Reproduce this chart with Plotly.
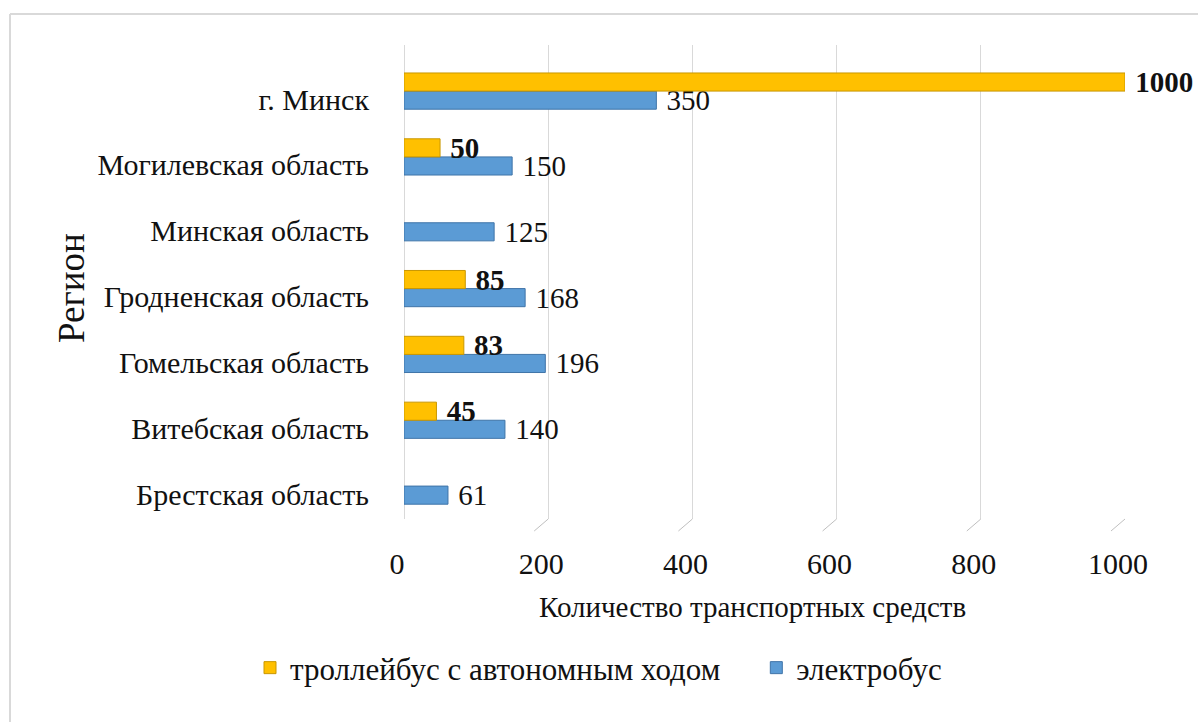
import plotly.graph_objects as go

# Regions, bottom to top
regions = [
    "Брестская область",
    "Витебская область",
    "Гомельская область",
    "Гродненская область",
    "Минская область",
    "Могилевская область",
    "г. Минск",
]
trolleybus = [None, 45, 83, 85, None, 50, 1000]
ebus = [61, 140, 196, 168, 125, 150, 350]

x_ticks = [0, 200, 400, 600, 800, 1000]

series_names = ["троллейбус с автономным ходом", "электробус"]
gold, gold_dark = "#FFC000", "#C99700"
blue, blue_dark = "#5B9BD5", "#3F74A8"

W, H = 1198, 722
ML, MR, MT, MB = 404, 73, 45, 203
PW, PH = W - ML - MR, H - MT - MB


def px_x(p):
    return (p - ML) / PW


def px_y(p):
    return (H - MB - p) / PH


FONT = "Liberation Serif"
NBSP = "\u00a0"

fig = go.Figure()

# electric buses are added first so they sit below the trolleybuses in each group
fig.add_trace(go.Bar(
    y=regions, x=ebus, orientation="h", name=series_names[1],
    marker=dict(color=blue, line=dict(color=blue_dark, width=1)),
    text=[NBSP + str(v) for v in ebus], textposition="outside",
    textfont=dict(family=FONT, size=29, color="#111"),
    cliponaxis=False, constraintext="none", legendrank=2,
))
fig.add_trace(go.Bar(
    y=regions, x=trolleybus, orientation="h",
    name=series_names[0] + NBSP * 4,
    marker=dict(color=gold, line=dict(color=gold_dark, width=1)),
    text=[f"{NBSP}<b>{v}</b>" if v is not None else "" for v in trolleybus],
    textposition="outside",
    textfont=dict(family=FONT, size=29, color="#111"),
    cliponaxis=False, constraintext="none", legendrank=1,
))

# slanted floor strokes at the foot of each gridline
shapes = []
for v in x_ticks:
    shapes.append(dict(
        type="line", xref="x", yref="paper",
        xsizemode="pixel", ysizemode="pixel",
        xanchor=v, yanchor=0, x0=0, x1=-14, y0=0, y1=-12,
        line=dict(color="#BFBFBF", width=1),
    ))
# chart frame (left and top edges)
shapes.append(dict(type="line", xref="paper", yref="paper",
                   x0=px_x(10), x1=px_x(1210), y0=px_y(14), y1=px_y(14),
                   line=dict(color="#D9D9D9", width=2)))
shapes.append(dict(type="line", xref="paper", yref="paper",
                   x0=px_x(10), x1=px_x(10), y0=px_y(14), y1=px_y(730),
                   line=dict(color="#D9D9D9", width=2)))

annotations = [
    dict(text="Количество транспортных средств", xref="paper", yref="paper",
         x=px_x(752), y=px_y(607), showarrow=False,
         font=dict(family=FONT, size=29, color="#111"),
         xanchor="center", yanchor="middle"),
    dict(text="Регион", xref="paper", yref="paper",
         x=px_x(71), y=px_y(288), showarrow=False, textangle=-90,
         font=dict(family=FONT, size=37, color="#111"),
         xanchor="center", yanchor="middle"),
]

fig.update_layout(
    width=W, height=H,
    margin=dict(l=ML, r=MR, t=MT, b=MB),
    paper_bgcolor="white", plot_bgcolor="white",
    barmode="group", bargap=0.45, bargroupgap=0,
    font=dict(family=FONT, size=29, color="#111"),
    showlegend=True,
    legend=dict(orientation="h", x=px_x(250), y=px_y(668),
                xanchor="left", yanchor="middle",
                font=dict(family=FONT, size=31, color="#111"),
                itemwidth=30, tracegroupgap=0),
    shapes=shapes,
    annotations=annotations,
)
fig.update_xaxes(
    range=[0, 1000], tickvals=x_ticks, showgrid=True, gridcolor="#D9D9D9",
    gridwidth=1, zeroline=True, zerolinecolor="#D9D9D9", zerolinewidth=1,
    showline=False, ticks="", ticklabelstandoff=24, ticklabelshift=-7,
    tickfont=dict(family=FONT, size=30, color="#111"),
)
fig.update_yaxes(
    type="category", categoryorder="array", categoryarray=regions,
    range=[-0.5, 6.7], showgrid=False, zeroline=False, showline=False,
    ticks="", ticklabelstandoff=34, ticklabelshift=8,
    tickfont=dict(family=FONT, size=30, color="#111"),
)

fig.write_html("out.html")
